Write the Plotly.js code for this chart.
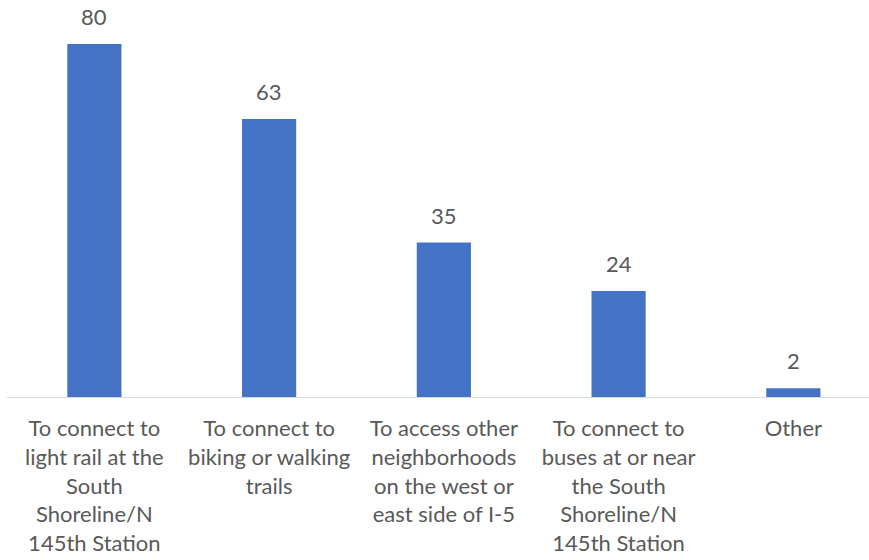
<!DOCTYPE html>
<html>
<head>
<meta charset="utf-8">
<script src="https://cdn.plot.ly/plotly-3.0.1.min.js"></script>
<style>html,body{margin:0;padding:0;background:#fff;}#chart{width:869px;height:560px;}</style>
</head>
<body>
<div id="chart"></div>
<script>
const categories = [
  "To connect to<br>light rail at the<br>South<br>Shoreline/N<br>145th Station",
  "To connect to<br>biking or walking<br>trails",
  "To access other<br>neighborhoods<br>on the west or<br>east side of I-5",
  "To connect to<br>buses at or near<br>the South<br>Shoreline/N<br>145th Station",
  "Other"
];
const values = [80, 63, 35, 24, 2];
const labels = values.map(String);

const fontFam = "Lato, 'Open Sans', sans-serif";
const textColor = "#595959";

const trace = {
  type: "bar",
  x: categories,
  y: values,
  marker: {color: "#4472C4"},
  hoverinfo: "skip"
};

const annotations = categories.map((c, i) => ({
  x: c, y: values[i], text: labels[i], showarrow: false,
  xref: "x", yref: "y", yanchor: "bottom", yshift: 12,
  font: {family: fontFam, size: 22, color: textColor}
}));

const layout = {
  width: 869, height: 560,
  margin: {l: 7, r: 0, t: 20, b: 163},
  paper_bgcolor: "#fff", plot_bgcolor: "#fff",
  bargap: 0.69,
  showlegend: false,
  xaxis: {
    type: "category",
    range: [-0.5, 4.433],
    showline: true, linecolor: "#d9d9d9", linewidth: 1,
    showgrid: false, zeroline: false, ticks: "",
    tickfont: {family: fontFam, size: 22, color: textColor},
    tickangle: 0, automargin: false,
    ticklabelstandoff: 12
  },
  yaxis: {
    range: [0, 85.44],
    visible: false, showgrid: false, zeroline: false
  },
  annotations: annotations
};

Plotly.newPlot("chart", [trace], layout, {displayModeBar: false, staticPlot: true});
</script>
</body>
</html>
